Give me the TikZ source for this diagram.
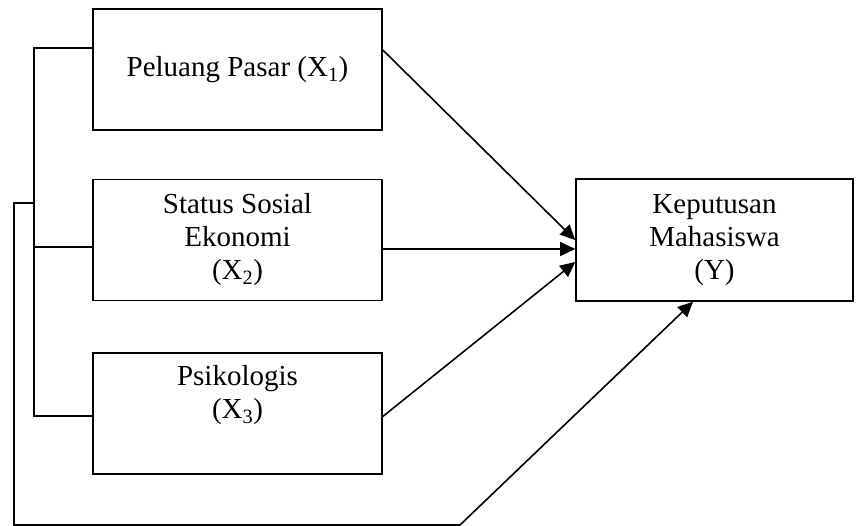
\documentclass[tikz,border=0pt]{standalone}
\usepackage{fontspec}
\setmainfont{Liberation Serif}
\usetikzlibrary{arrows.meta}

\begin{document}
\begin{tikzpicture}[x=1pt,y=-1pt,
    box/.style={draw, line width=1.6pt, minimum width=289pt, minimum height=121pt,
      align=center, inner sep=0pt, font=\fontsize{29}{33}\selectfont},
    link/.style={line width=1.6pt},
    arr/.style={line width=1.6pt, -{Triangle[length=15pt,width=14pt]}}]
  \useasboundingbox (0,0) rectangle (856,526);
  % variables
  \node[box] (x1) at (237.5,69.5) {Peluang Pasar (X\textsubscript{1})};
  \node[box] (x2) at (237.5,240) {Status Sosial\\Ekonomi\\(X\textsubscript{2})};
  \node[box] (x3) at (237.5,413.5) {Psikologis\\(X\textsubscript{3})\\ \strut};
  \node[box, minimum width=277pt, minimum height=122pt] (y) at (714.5,240)
    {Keputusan\\Mahasiswa\\(Y)};
  % brackets on the left
  \coordinate (inTop) at (34,48);
  \coordinate (inMid) at (34,203);
  \coordinate (inBot) at (34,416);
  \coordinate (outTop) at (14,203);
  \coordinate (outBot) at (14,525);
  \coordinate (outEnd) at (460,525);
  \draw[link] ([yshift=21.5pt]x1.west) -- (inTop) -- (inBot) -- ([yshift=-2.5pt]x3.west);
  \draw[link] (inMid) -- (outTop) -- (outBot) -- (outEnd);
  \draw[link] (34,247) -- ([yshift=-7pt]x2.west);
  % arrows to Y
  \draw[arr] ([yshift=19.5pt]x1.east) -- (y.west);
  \draw[arr] ([yshift=-9pt]x2.east) -- ([yshift=-9pt]y.west);
  \draw[arr] ([yshift=-3pt]x3.east) -- ([yshift=-22pt]y.west);
  \draw[arr] (outEnd) -- ([xshift=-21.5pt]y.south);
\end{tikzpicture}
\end{document}
